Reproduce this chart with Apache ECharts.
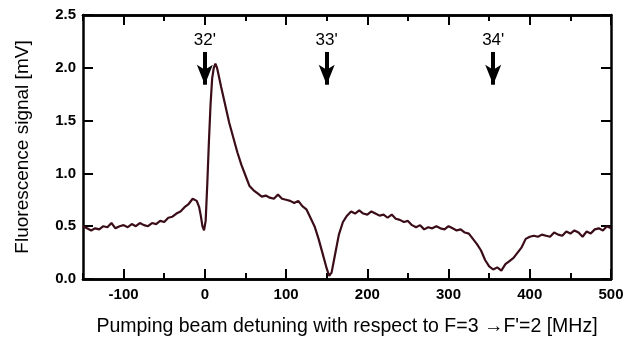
<!DOCTYPE html>
<html lang="en">
<head>
<meta charset="UTF-8">
<title>Fluorescence signal</title>
<script src="https://cdn.jsdelivr.net/npm/echarts@6/dist/echarts.min.js"></script>
<style>
  html, body { margin: 0; padding: 0; background: #fff; }
</style>
</head>
<body>
<div id="main" style="width:631px;height:339px;"></div>
<script type="text/javascript">
// detuning [MHz]
var freq = [-150, -145, -140, -135, -130, -125, -120, -115, -110, -105,
  -100, -95, -90, -85, -80, -75, -70, -65, -60, -55,
  -50, -45, -40, -35, -30, -25, -20, -15, -10, -7,
  -5, -3, -1, 1, 3, 5, 7, 9, 11, 13,
  15, 17, 20, 25, 30, 35, 40, 45, 50, 55,
  60, 65, 70, 75, 80, 85, 90, 95, 100, 105,
  110, 115, 120, 125, 130, 135, 140, 145, 150, 153,
  156, 160, 165, 170, 175, 180, 185, 190, 195, 200,
  205, 210, 215, 220, 225, 230, 235, 240, 245, 250,
  255, 260, 265, 270, 275, 280, 285, 290, 295, 300,
  305, 310, 315, 320, 325, 330, 335, 340, 345, 350,
  355, 360, 365, 370, 375, 380, 385, 390, 395, 400,
  405, 410, 415, 420, 425, 430, 435, 440, 445, 450,
  455, 460, 465, 470, 475, 480, 485, 490, 495, 500];
// fluorescence [mV]
var signal = [0.50, 0.48, 0.46, 0.48, 0.47, 0.50, 0.49, 0.53, 0.48, 0.50,
  0.51, 0.49, 0.52, 0.50, 0.53, 0.51, 0.50, 0.53, 0.52, 0.55,
  0.54, 0.58, 0.59, 0.62, 0.64, 0.68, 0.71, 0.76, 0.74, 0.68,
  0.60, 0.50, 0.46, 0.55, 0.90, 1.30, 1.65, 1.90, 2.00, 2.04,
  2.00, 1.93, 1.82, 1.65, 1.48, 1.34, 1.20, 1.08, 0.98, 0.88,
  0.84, 0.81, 0.78, 0.79, 0.77, 0.76, 0.80, 0.76, 0.75, 0.74,
  0.72, 0.74, 0.69, 0.66, 0.58, 0.50, 0.38, 0.24, 0.10, 0.03,
  0.06, 0.22, 0.42, 0.54, 0.60, 0.64, 0.62, 0.65, 0.62, 0.61,
  0.64, 0.62, 0.60, 0.61, 0.58, 0.61, 0.57, 0.56, 0.54, 0.55,
  0.51, 0.49, 0.51, 0.47, 0.49, 0.48, 0.50, 0.48, 0.47, 0.50,
  0.48, 0.46, 0.47, 0.44, 0.43, 0.38, 0.33, 0.27, 0.18, 0.12,
  0.09, 0.11, 0.08, 0.14, 0.17, 0.20, 0.25, 0.30, 0.38, 0.40,
  0.41, 0.40, 0.42, 0.41, 0.40, 0.44, 0.42, 0.41, 0.45, 0.43,
  0.46, 0.44, 0.40, 0.45, 0.43, 0.47, 0.48, 0.46, 0.50, 0.48];

// transition markers
var markerFreq = [0, 150, 355];
var markerNames = ["32'", "33'", "34'"];

var majorTicks = [-100, 0, 100, 200, 300, 400, 500];
var minorTicks = [-150, -50, 50, 150, 250, 350, 450];

var myChart = echarts.init(document.getElementById('main'));

var lineData = freq.map(function (f, i) { return [f, signal[i]]; });

var arrowLines = markerFreq.map(function (f) {
  return [{ coord: [f, 2.15] }, { coord: [f, 1.84] }];
});
var labelData = markerFreq.map(function (f, i) {
  return { coord: [f, 2.15], name: markerNames[i], value: markerNames[i] };
});

var fontFam = '"Liberation Sans", Arial, sans-serif';
var frameLine = { show: true, onZero: false, lineStyle: { color: '#000', width: 2.5 } };

function xAxisDef(pos, ticks, len, labels) {
  return {
    type: 'value', min: -150, max: 500, position: pos,
    axisLine: frameLine,
    axisTick: { show: true, inside: true, length: len, customValues: ticks,
      lineStyle: { color: '#000', width: 2 } },
    axisLabel: labels ? {
      show: true, customValues: majorTicks, color: '#000', fontSize: 15,
      fontWeight: 'bold', fontFamily: fontFam, margin: 8
    } : { show: false },
    splitLine: { show: false }
  };
}

var xAxes = [
  xAxisDef('bottom', majorTicks, 10, true),
  xAxisDef('bottom', minorTicks, 6, false),
  xAxisDef('top', majorTicks, 10, false),
  xAxisDef('top', minorTicks, 6, false)
];
xAxes[0].name = "Pumping beam detuning with respect to F=3 \u2192F'=2 [MHz]";
xAxes[0].nameLocation = 'middle';
xAxes[0].nameGap = 38;
xAxes[0].nameTextStyle = { color: '#000', fontSize: 19.5, fontFamily: fontFam };

function yAxisDef(pos, labels) {
  return {
    type: 'value', min: 0, max: 2.5, interval: 0.5, position: pos,
    axisLine: frameLine,
    axisTick: { show: true, inside: true, length: 10,
      lineStyle: { color: '#000', width: 2 } },
    axisLabel: labels ? {
      show: true, color: '#000', fontSize: 15, fontWeight: 'bold',
      fontFamily: fontFam, margin: 7,
      formatter: function (v) { return v.toFixed(1); }
    } : { show: false },
    splitLine: { show: false }
  };
}
var yAxes = [yAxisDef('left', true), yAxisDef('right', false)];
yAxes[0].name = 'Fluorescence signal [mV]';
yAxes[0].nameLocation = 'middle';
yAxes[0].nameGap = 51;
yAxes[0].nameTextStyle = { color: '#000', fontSize: 19, fontFamily: fontFam };

myChart.setOption({
  animation: false,
  grid: { left: 83, right: 20, top: 15, bottom: 60, containLabel: false, outerBoundsMode: 'none' },
  xAxis: xAxes,
  yAxis: yAxes,
  series: [{
    type: 'line',
    data: lineData,
    showSymbol: false,
    lineStyle: { color: '#3b0d18', width: 2.2 },
    markLine: {
      silent: true,
      symbol: ['none', 'arrow'],
      symbolSize: [12, 20],
      label: { show: false },
      lineStyle: { color: '#000', width: 4, type: 'solid', opacity: 1 },
      data: arrowLines
    },
    markPoint: {
      silent: true,
      symbol: 'circle',
      symbolSize: 0,
      label: {
        show: true, position: 'top', distance: 3, color: '#000',
        fontSize: 17, fontFamily: fontFam,
        formatter: function (p) { return p.name; }
      },
      data: labelData
    }
  }]
});
</script>
</body>
</html>
